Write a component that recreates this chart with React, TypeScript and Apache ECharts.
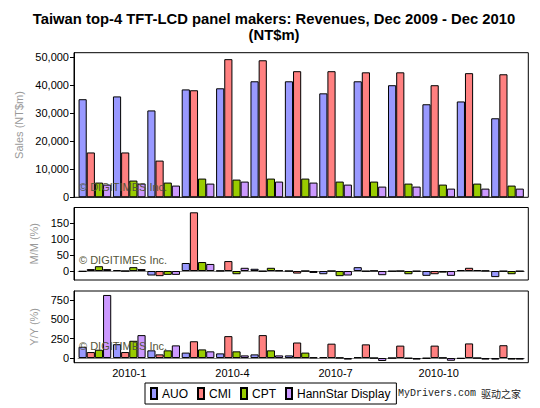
import React, { useEffect, useRef } from "react";
import * as echarts from "echarts";

const categories = [
  "2009-12", "2010-1", "2010-2", "2010-3", "2010-4", "2010-5", "2010-6",
  "2010-7", "2010-8", "2010-9", "2010-10", "2010-11", "2010-12",
];
const seriesNames = ["AUO", "CMI", "CPT", "HannStar Display"];
const colors = ["#9999FF", "#FF8080", "#99CC00", "#CC99FF"];

const salesAUO = [35000, 36000, 31000, 38500, 38900, 41400, 41400, 37100, 41400, 40000, 33200, 34200, 28200];
const salesCMI = [16000, 16000, 13100, 38200, 49300, 48900, 45000, 45000, 44600, 44600, 40000, 44300, 43900];
const salesCPT = [5250, 5970, 5250, 6680, 6320, 6680, 6680, 5610, 5610, 4890, 4530, 4890, 4180];
const salesHannStar = [4530, 4890, 4180, 4890, 5610, 5610, 5250, 4530, 3820, 3820, 3100, 3100, 3100];

const momAUO = [-2, 3, -14, 25, 1, 7, 0, -10, 12, -1, -15, 3, -19];
const momCMI = [6, 0, -16, 183, 31, -1, -8, 0, -1, 0, -10, 10, -1];
const momCPT = [15, 12, -12, 28, -10, 10, 0, -16, 1, -10, -5, 3, -10];
const momHannStar = [6, 6, -12, 22, 10, 2, -6, -14, -13, -1, -15, 1, -1];

const yoyAUO = [145, 178, 99, 70, 60, 47, 34, 12, 10, 0, -5, -8, -20];
const yoyCMI = [77, 77, 47, 216, 282, 295, 200, 185, 176, 160, 160, 188, 165];
const yoyCPT = [107, 222, 99, 111, 86, 99, 70, 5, 0, -5, 5, 0, -20];
const yoyHannStar = [812, 295, 163, 86, 34, 34, 8, -20, -38, -20, -35, -20, -20];

const salesTicks = [0, 10000, 20000, 30000, 40000, 50000];
const momTicks = [0, 50, 100, 150];
const yoyTicks = [0, 250, 500, 750];

const FONT = "'Liberation Sans', Arial, sans-serif";

export default function App() {
  const ref = useRef<HTMLDivElement>(null);

  useEffect(() => {
    document.body.style.margin = "0";
    if (!ref.current) return;
    const chart = echarts.init(ref.current, null, { renderer: "svg" });

    const frameL = 74;
    const frameR = 528.3;
    const gridL = 77.7;
    const gridR = 540 - 524.7;
    const grids = [
      { top: 52.7, bottom: 197.3 },
      { top: 207.5, bottom: 280 },
      { top: 291, bottom: 362.7 },
    ];

    const groups = [
      { data: [salesAUO, salesCMI, salesCPT, salesHannStar], min: 0, max: 51600, ticks: salesTicks, name: "Sales (NT$m)", gap: 44 },
      { data: [momAUO, momCMI, momCPT, momHannStar], min: -28, max: 198, ticks: momTicks, name: "M/M (%)", gap: 29 },
      { data: [yoyAUO, yoyCMI, yoyCPT, yoyHannStar], min: -60, max: 863, ticks: yoyTicks, name: "Y/Y (%)", gap: 29 },
    ];

    const series: any[] = [];
    groups.forEach((g, gi) => {
      g.data.forEach((arr, si) => {
        const s: any = {
          type: "bar",
          name: seriesNames[si],
          xAxisIndex: gi,
          yAxisIndex: gi,
          data: arr,
          barGap: "0%",
          barCategoryGap: "5%",
          itemStyle: { color: colors[si], borderColor: "#000", borderWidth: 1 },
          z: 3,
        };
        if (gi > 0 && si === 0) {
          s.markLine = {
            silent: true,
            symbol: "none",
            label: { show: false },
            lineStyle: { color: "#888", type: "solid", width: 1 },
            data: [{ yAxis: 0 }],
            z: 1,
          };
        }
        series.push(s);
      });
    });

    const watermark = (y: number) => ({
      type: "text",
      left: 79,
      top: y - 7,
      z: 100,
      style: {
        text: "\u00a9 DIGITIMES Inc.",
        fill: "#55553a",
        font: `11px ${FONT}`,
      },
    });

    const frames = grids.map((g) => ({
      type: "rect",
      z: 100,
      shape: { x: frameL, y: g.top, width: frameR - frameL, height: g.bottom - g.top },
      style: { fill: "none", stroke: "#000", lineWidth: 1 },
    }));

    const option: any = {
      animation: false,
      backgroundColor: "#fff",
      grid: grids.map((g) => ({ left: gridL, right: gridR, top: g.top, height: g.bottom - g.top })),
      xAxis: grids.map((_, gi) => ({
        type: "category",
        gridIndex: gi,
        data: categories,
        axisLine: { show: false, onZero: false },
        axisTick: { show: false },
        axisLabel: {
          show: gi === 2,
          interval: (index: number) => index % 3 === 1,
          color: "#000",
          fontSize: 11,
          fontFamily: FONT,
          margin: 5,
        },
        splitLine: { show: false },
      })),
      yAxis: groups.map((g, gi) => ({
        type: "value",
        gridIndex: gi,
        min: g.min,
        max: g.max,
        offset: gridL - frameL,
        name: g.name,
        nameLocation: "middle",
        nameGap: g.gap,
        nameTextStyle: { color: "#999", fontSize: 11, fontFamily: FONT },
        axisLine: { show: true, lineStyle: { color: "#000" } },
        axisTick: { show: true, length: 4, lineStyle: { color: "#000" }, customValues: g.ticks },
        axisLabel: {
          color: "#000",
          fontSize: 11,
          fontFamily: FONT,
          margin: 5,
          customValues: g.ticks,
          formatter: (v: number) => v.toLocaleString("en-US"),
        },
        splitLine: { show: false },
      })),
      legend: {
        data: seriesNames,
        left: 145,
        top: 383,
        icon: "rect",
        itemWidth: 6,
        itemHeight: 11,
        itemGap: 9,
        padding: [4, 6, 4, 5],
        borderColor: "#000",
        borderWidth: 1,
        selectedMode: false,
        textStyle: { color: "#000", fontSize: 12, fontFamily: FONT },
      },
      graphic: [
        {
          type: "text",
          x: 274,
          y: 19,
          style: {
            text: "Taiwan top-4 TFT-LCD panel makers: Revenues, Dec 2009 - Dec 2010",
            fill: "#000",
            font: `bold 14.8px ${FONT}`,
            textAlign: "center",
            textVerticalAlign: "middle",
          },
        },
        {
          type: "text",
          x: 274,
          y: 35,
          style: {
            text: "(NT$m)",
            fill: "#000",
            font: `bold 14.8px ${FONT}`,
            textAlign: "center",
            textVerticalAlign: "middle",
          },
        },
        watermark(188),
        watermark(261),
        watermark(347),
        ...frames,
        {
          type: "text",
          x: 398,
          y: 393,
          style: {
            text: "MyDrivers.com",
            fill: "#222",
            font: `10px 'Liberation Mono', 'DejaVu Sans Mono', monospace`,
            textVerticalAlign: "middle",
          },
        },
        {
          type: "text",
          x: 481,
          y: 393,
          style: {
            text: "驱动之家",
            fill: "#222",
            font: `10px 'Noto Sans CJK SC', sans-serif`,
            textVerticalAlign: "middle",
          },
        },
      ],
      series,
    };

    chart.setOption(option);
    return () => chart.dispose();
  }, []);

  return <div ref={ref} style={{ width: 540, height: 408 }} />;
}
